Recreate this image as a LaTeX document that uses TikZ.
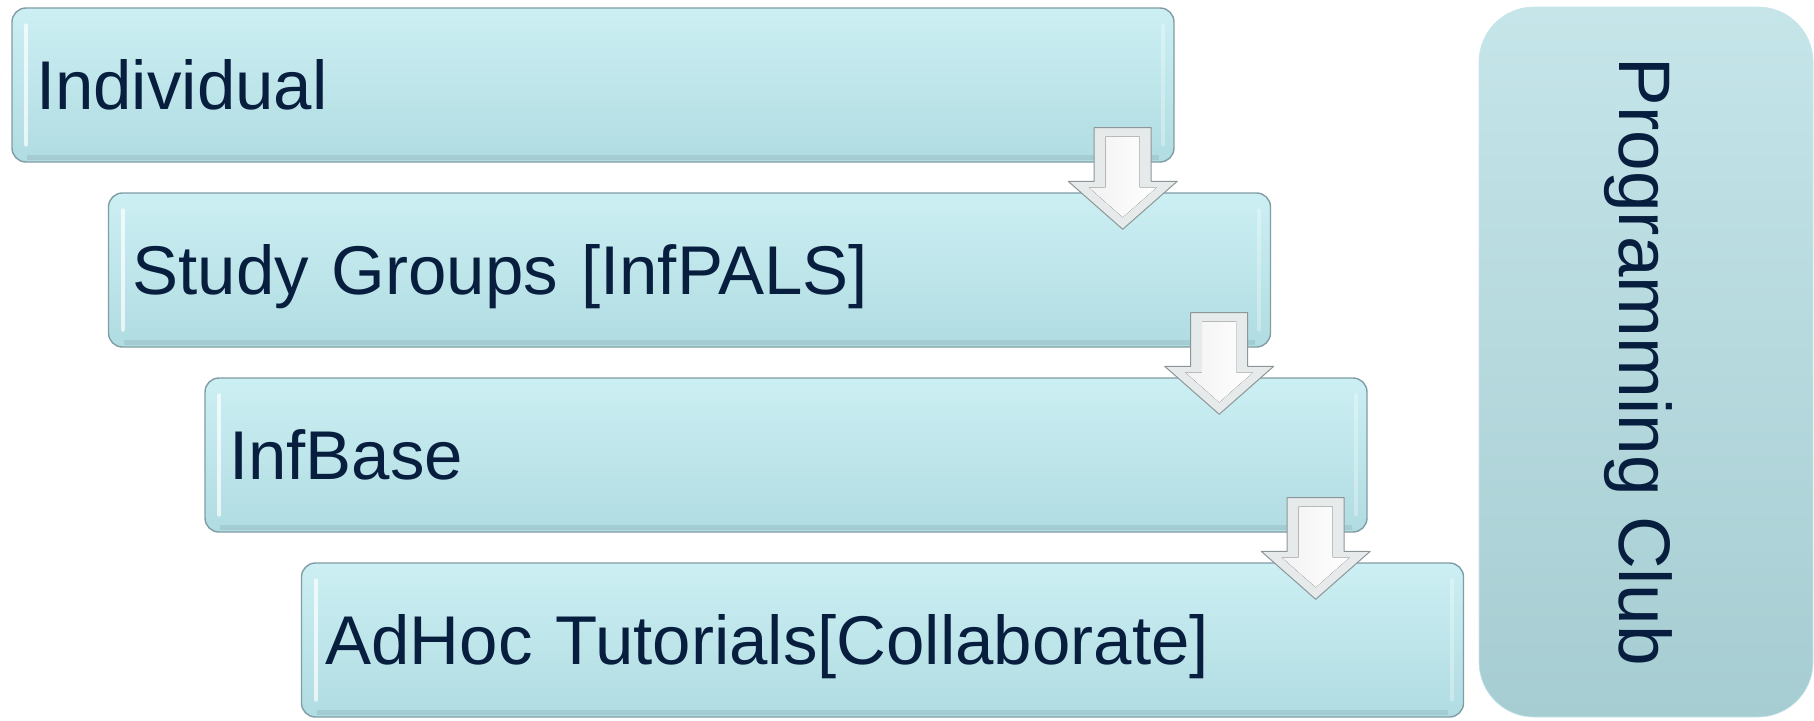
\documentclass[tikz,border=0pt]{standalone}
\usepackage{fontspec}
\setmainfont{Liberation Sans}
\usetikzlibrary{calc}

\definecolor{stagetop}{RGB}{204,239,243}
\definecolor{stagebot}{RGB}{176,220,226}
\definecolor{stageline}{RGB}{128,156,164}
\definecolor{clubtop}{RGB}{197,229,233}
\definecolor{clubbot}{RGB}{166,205,210}
\definecolor{navy}{RGB}{8,30,62}
\definecolor{arrowgray}{RGB}{230,234,235}
\definecolor{arrowline}{RGB}{140,150,152}

\tikzset{
  stage/.style={draw=stageline, line width=1.4pt, rounded corners=14pt,
    top color=stagetop, bottom color=stagebot,
    minimum height=154pt, text width=1114pt, inner xsep=24pt, align=left,
    text height=49pt, text depth=0pt, text=navy,
    font=\fontsize{69}{80}\selectfont},
  club/.style={draw=clubtop, line width=0.6pt, rounded corners=55pt,
    top color=clubtop, bottom color=clubbot,
    minimum width=334pt, minimum height=710pt, inner sep=0pt, text=navy,
    font=\fontsize{73}{80}\selectfont},
  shine/.style={white, opacity=0.7, line width=4pt, line cap=round},
  shade/.style={stageline, opacity=0.25, line width=5pt},
  arrowout/.style={fill=arrowgray, draw=arrowline, line width=1pt, line join=round},
  arrowin/.style={left color=gray!10, right color=white}
}

\newcommand{\stagearrow}[2]{%
  \coordinate (t) at ($(#1.south east)+(-52,35)$);
  \coordinate (b) at ($(t |- #2.north)+(0,-37)$);
  \draw[arrowout] ($(t)+(-28.5,0)$) -- ($(t)+(28.5,0)$) -- ($(b)+(28.5,48)$)
    -- ($(b)+(54.5,48)$) -- (b) -- ($(b)+(-54.5,48)$) -- ($(b)+(-28.5,48)$) -- cycle;
  \fill[arrowin] ($(t)+(-17,-9)$) -- ($(t)+(17,-9)$) -- ($(b)+(17,42)$)
    -- ($(b)+(34,42)$) -- ($(b)+(0,12)$) -- ($(b)+(-34,42)$) -- ($(b)+(-17,42)$) -- cycle;
}

\begin{document}
\begin{tikzpicture}[x=1pt, y=1pt]
\useasboundingbox (0,0) rectangle (1814,-720);

\foreach \i/\txt in {0/Individual, 1/{Study Groups [InfPALS]}, 2/InfBase, 3/{AdHoc Tutorials[Collaborate]}} {
  \node[stage] (s\i) at (593+96.5*\i, -85-185*\i) {\txt};
  \draw[shine] ($(s\i.north west)+(15,-18)$) -- ($(s\i.south west)+(15,18)$);
  \draw[shine, opacity=0.3] ($(s\i.north east)+(-12,-18)$) -- ($(s\i.south east)+(-12,18)$);
  \draw[shade] ($(s\i.south west)+(16,5)$) -- ($(s\i.south east)+(-16,5)$);
}

\foreach \a/\b in {s0/s1, s1/s2, s2/s3} {
  \stagearrow{\a}{\b}
}

\node[club] (club) at (1646,-362) {\rotatebox{-90}{\raisebox{0pt}[0.716em][0pt]{Programming Club}}};
\end{tikzpicture}
\end{document}
